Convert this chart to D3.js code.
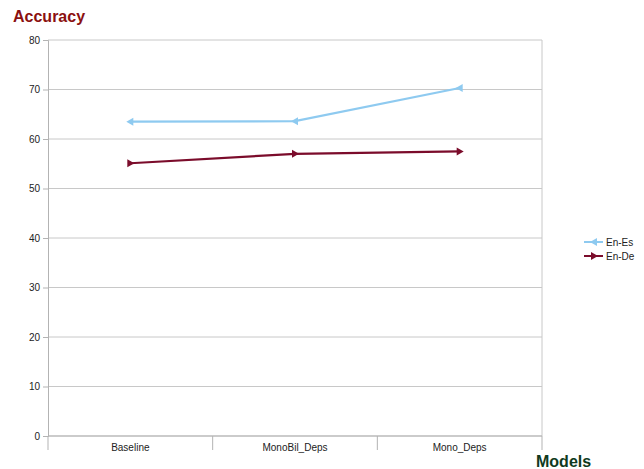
<!DOCTYPE html>
<html>
<head>
<meta charset="utf-8">
<script src="https://cdn.jsdelivr.net/npm/d3@7"></script>
<style>
  body { margin: 0; background: #fff; }
  text { font-family: "Liberation Sans", Arial, sans-serif; }
</style>
</head>
<body>
<svg id="chart" width="644" height="469"></svg>
<script>
var categories = ["Baseline", "MonoBil_Deps", "Mono_Deps"];
var enEs = [63.5, 63.6, 70.3];
var enDe = [55.1, 57.0, 57.5];
var yTicks = [0, 10, 20, 30, 40, 50, 60, 70, 80];

var series = [
  {name: "En-Es", values: enEs, color: "#8ecaf0", dir: "left"},
  {name: "En-De", values: enDe, color: "#7b0c2b", dir: "right"}
];

var svg = d3.select("#chart"),
    margin = {top: 40, left: 48},
    width = 494,
    height = 396;

var g = svg.append("g").attr("transform", "translate(" + margin.left + "," + margin.top + ")");

var x = d3.scaleBand().domain(categories).range([0, width]);
var y = d3.scaleLinear().domain([0, 80]).range([height, 0]);

// grid
g.selectAll(".grid").data(yTicks).enter().append("line")
  .attr("x1", 0).attr("x2", width)
  .attr("y1", function(d) { return y(d); })
  .attr("y2", function(d) { return y(d); })
  .attr("stroke", "#c8c8c8").attr("stroke-width", 1);

// right border
g.append("line").attr("x1", width).attr("x2", width).attr("y1", 0).attr("y2", height)
  .attr("stroke", "#c8c8c8");

// y axis
var yAxis = g.append("g")
  .call(d3.axisLeft(y).tickValues(yTicks).tickSize(5).tickPadding(3));
yAxis.select(".domain").attr("stroke", "#b3b3b3");
yAxis.selectAll(".tick line").attr("stroke", "#b3b3b3");
yAxis.selectAll("text").attr("font-size", 10).attr("fill", "#222")
  .style("font-family", "Liberation Sans, Arial, sans-serif");

// x axis: separators between bands
var xAxis = g.append("g").attr("transform", "translate(0," + height + ")");
xAxis.append("line").attr("x1", 0).attr("x2", width).attr("stroke", "#b3b3b3");
var seps = [0].concat(categories.map(function(c) { return x(c) + x.bandwidth(); }));
xAxis.selectAll(".sep").data(seps).enter().append("line")
  .attr("x1", function(d) { return d; }).attr("x2", function(d) { return d; })
  .attr("y1", 0).attr("y2", 14).attr("stroke", "#b3b3b3");
xAxis.selectAll(".lbl").data(categories).enter().append("text")
  .attr("x", function(d) { return x(d) + x.bandwidth() / 2; })
  .attr("y", 15)
  .attr("text-anchor", "middle")
  .attr("font-size", 10).attr("fill", "#222")
  .text(function(d) { return d; });

var line = d3.line()
  .x(function(d, i) { return x(categories[i]) + x.bandwidth() / 2; })
  .y(function(d) { return y(d); });

function tri(dir) {
  return dir == "left" ? "M-4,0L3,-4L3,4Z" : "M4,0L-3,-4L-3,4Z";
}

series.forEach(function(s) {
  g.append("path").datum(s.values)
    .attr("fill", "none").attr("stroke", s.color).attr("stroke-width", 2.2)
    .attr("d", line);
  g.selectAll(".m").data(s.values).enter().append("path")
    .attr("transform", function(d, i) {
      return "translate(" + (x(categories[i]) + x.bandwidth() / 2) + "," + y(d) + ")";
    })
    .attr("d", tri(s.dir)).attr("fill", s.color);
});

// legend
var leg = svg.append("g").attr("transform", "translate(584,242)");
series.forEach(function(s, i) {
  var r = leg.append("g").attr("transform", "translate(0," + (i * 14) + ")");
  r.append("line").attr("x1", 0).attr("x2", 19).attr("stroke", s.color).attr("stroke-width", 2);
  r.append("path").attr("transform", "translate(10,0)").attr("d", tri(s.dir)).attr("fill", s.color);
  r.append("text").attr("x", 22).attr("y", 4).attr("font-size", 10).attr("fill", "#222").text(s.name);
});

// titles
svg.append("text").attr("x", 13).attr("y", 22)
  .attr("font-size", 16).attr("font-weight", "bold").attr("fill", "#8b1010")
  .text("Accuracy");
svg.append("text").attr("x", 536).attr("y", 467)
  .attr("font-size", 16).attr("font-weight", "bold").attr("fill", "#0f3a20")
  .text("Models");
</script>
</body>
</html>
